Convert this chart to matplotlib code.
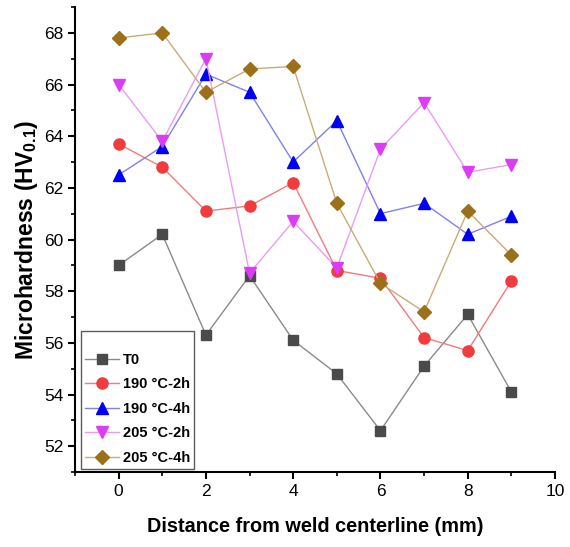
import numpy as np
import matplotlib
matplotlib.use("Agg")
import matplotlib.pyplot as plt
from matplotlib.ticker import MultipleLocator

plt.rcParams['font.family'] = ['Liberation Sans', 'DejaVu Sans']
plt.rcParams['mathtext.fontset'] = 'custom'
plt.rcParams['mathtext.rm'] = 'Liberation Sans'
plt.rcParams['mathtext.bf'] = 'Liberation Sans:bold'

# data
distance = [0, 1, 2, 3, 4, 5, 6, 7, 8, 9]
t0 = [59.0, 60.2, 56.3, 58.6, 56.1, 54.8, 52.6, 55.1, 57.1, 54.1]
c190_2h = [63.7, 62.8, 61.1, 61.3, 62.2, 58.8, 58.5, 56.2, 55.7, 58.4]
c190_4h = [62.5, 63.6, 66.4, 65.7, 63.0, 64.6, 61.0, 61.4, 60.2, 60.9]
c205_2h = [66.0, 63.8, 67.0, 58.7, 60.7, 58.9, 63.5, 65.3, 62.6, 62.9]
c205_4h = [67.8, 68.0, 65.7, 66.6, 66.7, 61.4, 58.3, 57.2, 61.1, 59.4]
labels = ['T0', '190 \u00b0C-2h', '190 \u00b0C-4h', '205 \u00b0C-2h', '205 \u00b0C-4h']

series = [t0, c190_2h, c190_4h, c205_2h, c205_4h]
colors = ['#4a4a4a', '#f03c3c', '#0000f5', '#dc3cf5', '#9c7018']
linecolors = ['#8a8a8a', '#f47a7a', '#8080f0', '#eb9af5', '#c8ac78']
markers = ['s', 'o', '^', 'v', 'D']
sizes = [7, 8, 8, 8, 7]

fig = plt.figure(figsize=(5.7, 5.47), dpi=100)
ax = fig.add_axes([0.1316, 0.1371, 0.8421, 0.8501])

for y, lab, c, lc, m, s in zip(series, labels, colors, linecolors, markers, sizes):
    ax.plot(distance, y, color=lc, lw=1.0, marker=m, ms=s,
            markerfacecolor=c, markeredgecolor=c, label=lab)

ax.set_xlim(-1, 10)
ax.set_ylim(51, 69)
ax.xaxis.set_major_locator(MultipleLocator(2))
ax.xaxis.set_minor_locator(MultipleLocator(1))
ax.yaxis.set_major_locator(MultipleLocator(2))
ax.yaxis.set_minor_locator(MultipleLocator(1))
ax.spines['top'].set_visible(False)
ax.spines['right'].set_visible(False)
for sp in ['left', 'bottom']:
    ax.spines[sp].set_linewidth(1.5)
ax.tick_params(which='major', direction='out', length=5, width=1.5, labelsize=12.5)
ax.tick_params(which='minor', direction='out', length=3, width=1.2)

ax.set_xlabel('Distance from weld centerline (mm)', fontsize=14.3, fontweight='bold', labelpad=13)
ax.set_ylabel(r'Microhardness (HV$_{\mathbf{0.1}}$)', fontsize=16.5, fontweight='bold', labelpad=3)

leg = ax.legend(loc='lower left', bbox_to_anchor=(0.0125, 0.0065), borderaxespad=0,
                fancybox=False, edgecolor='#333333', prop={'weight': 'bold', 'size': 10.5},
                handlelength=2.3, handletextpad=0.25, labelspacing=0.72, borderpad=0.3,
                title=' ', title_fontsize=6)
leg.get_frame().set_linewidth(1.0)

fig.savefig('out.png', dpi=100)
